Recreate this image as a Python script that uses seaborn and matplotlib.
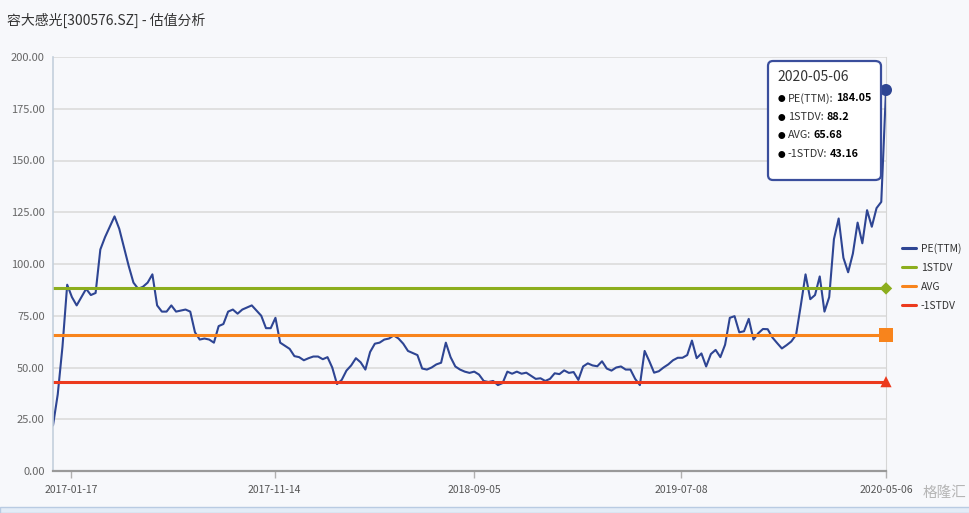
import pandas as pd
import seaborn as sns
import matplotlib.pyplot as plt
from matplotlib.lines import Line2D
from matplotlib.patches import Rectangle
from matplotlib.offsetbox import TextArea, HPacker, VPacker, AnchoredOffsetbox

# data (weekly samples ending 2020-05-06)
title = '容大感光[300576.SZ] - 估值分析'
end_date = '2020-05-06'
pe_ttm = [
    22, 37, 60, 90, 84, 80, 84, 88, 85, 86,
    107, 113, 118, 123, 117, 108, 99, 91, 88, 89,
    91, 95, 80, 77, 77, 80, 77, 77.5, 78, 77,
    67, 63.5, 64, 63.5, 62, 70, 71, 77, 78, 76,
    78, 79, 80, 77.5, 75, 69, 69, 74, 62, 60.5,
    59, 55.5, 55, 53.5, 54.5, 55.3, 55.3, 54, 55, 50,
    42, 44, 48.5, 51, 54.5, 52.5, 49, 57.5, 61.5, 62,
    63.5, 64, 65.5, 64, 61.5, 58, 57, 56, 49.5, 49,
    50, 51.5, 52.3, 62, 55, 50.5, 49, 48, 47.4, 48,
    46.6, 43.5, 43, 43.5, 41.5, 42.5, 48, 47, 48, 47,
    47.5, 46, 44.5, 44.8, 43.5, 44.5, 47.2, 46.8, 48.6, 47.4,
    47.8, 44, 50.5, 52, 51, 50.6, 53, 49.5, 48.5, 50,
    50.5, 49, 49, 44.5, 41.5, 58, 53, 47.5, 48.2, 50,
    51.5, 53.5, 54.7, 54.7, 56, 63, 54.5, 56.8, 50.5, 56.5,
    58.5, 55, 61, 74, 74.8, 67, 67.5, 73.5, 63.5, 66.5,
    68.6, 68.5, 64.5, 61.8, 59.2, 60.8, 62.6, 65.8, 80, 95,
    83, 85, 94, 77, 84, 112, 122, 103, 96, 105,
    120, 110, 126, 118, 127, 130, 184.05,
]
stdv_up = 88.2
avg = 65.68
stdv_dn = 43.16
series_names = ['PE(TTM)', '1STDV', 'AVG', '-1STDV']
tick_dates = ['2017-01-17', '2017-11-14', '2018-09-05', '2019-07-08', '2020-05-06']
y_ticks = [0, 25, 50, 75, 100, 125, 150, 175, 200]

colors = {'PE(TTM)': '#2e4593', '1STDV': '#8cae1e', 'AVG': '#f8841c', '-1STDV': '#ec3a1d'}
widths = {'PE(TTM)': 1.5, '1STDV': 2.2, 'AVG': 2.2, '-1STDV': 2.2}
markers = {'PE(TTM)': 'o', '1STDV': 'D', 'AVG': 's', '-1STDV': '^'}
msizes = {'PE(TTM)': 75, '1STDV': 40, 'AVG': 90, '-1STDV': 65}

dates = pd.date_range(end=end_date, periods=len(pe_ttm), freq='7D')
df = pd.DataFrame({'date': dates, 'PE(TTM)': pe_ttm, '1STDV': stdv_up,
                   'AVG': avg, '-1STDV': stdv_dn})
long = df.melt(id_vars='date', var_name='series', value_name='value')

sns.set_theme(style='white')
plt.rcParams['font.family'] = ['Noto Sans CJK SC', 'DejaVu Sans']
bg = '#f7f8fb'

fig = plt.figure(figsize=(9.7, 5.13), dpi=100, facecolor=bg)
ax = fig.add_axes([53 / 970, 1 - 471 / 513, 833 / 970, 414 / 513])
ax.set_facecolor(bg)

sns.lineplot(data=long, x='date', y='value', hue='series', hue_order=series_names,
             size='series', sizes=widths, palette=colors, legend=False, ax=ax)

last = long[long['date'] == dates[-1]]
sns.scatterplot(data=last, x='date', y='value', hue='series', style='series',
                size='series', sizes=msizes, markers=markers, palette=colors,
                hue_order=series_names, legend=False, linewidth=0, clip_on=False,
                zorder=5, ax=ax)

ax.set_xlim(dates[0], dates[-1])
ax.set_ylim(0, 200)
ax.set_yticks(y_ticks)
ax.set_yticklabels([f'{v:.2f}' for v in y_ticks])
ax.set_xticks(pd.to_datetime(tick_dates))
ax.set_xticklabels(tick_dates)
ax.set_xlabel('')
ax.set_ylabel('')
ax.yaxis.grid(True, color='#d9d9d9', lw=1.1)
ax.set_axisbelow(True)
ax.tick_params(axis='y', length=0, pad=6, labelsize=8, labelcolor='#666666')
ax.tick_params(axis='x', length=5, width=1, color='#b0b0b0', pad=5,
               labelsize=7.5, labelcolor='#555555', bottom=True)
ax.spines['top'].set_visible(False)
ax.spines['left'].set_color('#c4d0dc')
ax.spines['left'].set_linewidth(1.2)
ax.spines['bottom'].set_color('#999999')
ax.spines['bottom'].set_linewidth(1.6)
ax.spines['right'].set_color('#d6d6d6')
ax.spines['right'].set_linewidth(0.8)

fig.text(7 / 970, 1 - 20 / 513, title, fontsize=10, color='#333333', va='center')

handles = [Line2D([], [], color=colors[n], lw=2.2) for n in series_names]
fig.legend(handles, series_names, loc='upper left',
           bbox_to_anchor=(898 / 970, 1 - 239 / 513), frameon=False,
           handlelength=1.3, handletextpad=0.5, labelspacing=0.85,
           fontsize=7.5, labelcolor='#333333', borderaxespad=0)

# tooltip
tip_vals = [pe_ttm[-1], stdv_up, avg, stdv_dn]
rows = [TextArea(end_date, textprops=dict(fontsize=10, color='#333333'))]
for name, val in zip(series_names, tip_vals):
    rows.append(HPacker(children=[
        TextArea('●', textprops=dict(fontsize=5.5, color='black')),
        TextArea(f'{name}:', textprops=dict(fontsize=7.8, color='#333333')),
        TextArea(f'{val}', textprops=dict(fontsize=7.8, color='black', fontweight='bold')),
    ], align='baseline', pad=0, sep=2))
rows.append(TextArea(' ', textprops=dict(fontsize=2)))
box = VPacker(children=rows, align='left', pad=0, sep=6)
tip = AnchoredOffsetbox(loc='upper left', child=box, pad=0.75, borderpad=0,
                        frameon=True, prop=dict(size=8),
                        bbox_to_anchor=(769 / 970, 1 - 62 / 513),
                        bbox_transform=fig.transFigure)
tip.patch.set_boxstyle('round,pad=0.1,rounding_size=0.5')
tip.patch.set_facecolor('white')
tip.patch.set_edgecolor('#3a4e9c')
tip.patch.set_linewidth(1.6)
tip.set_zorder(10)
fig.add_artist(tip)

# bottom band and watermark
fig.add_artist(Rectangle((0, 0), 1, 6 / 513, transform=fig.transFigure,
                         facecolor='#e3ecf7', edgecolor='#b9cbe2', lw=1))
fig.text(966 / 970, 1 - 493 / 513, '格隆汇', fontsize=10.5, color='#b5b5b5',
         ha='right', va='center')

fig.savefig('out.png', dpi=100, facecolor=bg)
